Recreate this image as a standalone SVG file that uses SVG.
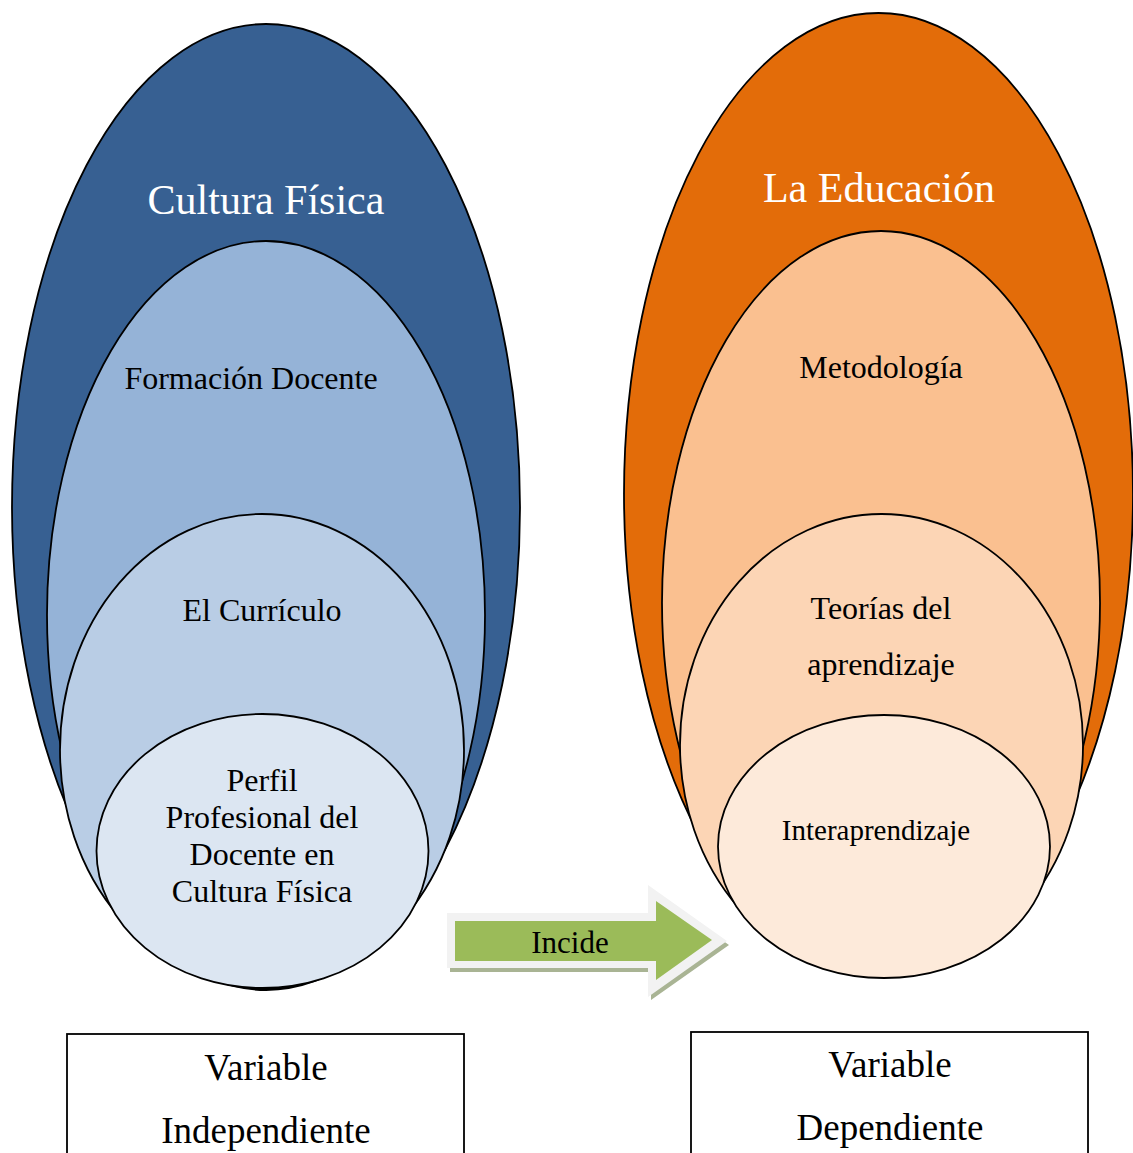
<svg xmlns="http://www.w3.org/2000/svg" width="1133" height="1153" viewBox="0 0 1133 1153">
<style>
.e{stroke:#000;stroke-width:1.8}
text{font-family:"Liberation Serif","Times New Roman",serif;text-anchor:middle;fill:#000}
.t{font-size:42px;fill:#fff}
.m{font-size:32px}
.v{font-size:37px}
</style>
<rect width="1133" height="1153" fill="#fff"/>
<g id="cultura-fisica">
<ellipse class="e" cx="266" cy="507" rx="254" ry="483" fill="#376092"/>
<text class="t" x="266" y="214">Cultura Física</text>
</g>
<g id="formacion-docente">
<ellipse class="e" cx="266" cy="615" rx="219" ry="374" fill="#95B3D7"/>
<text class="m" x="251" y="389">Formación Docente</text>
</g>
<g id="el-curriculo">
<ellipse class="e" cx="262" cy="750" rx="202" ry="236" fill="#B9CDE5"/>
<text class="m" x="262" y="621">El Currículo</text>
</g>
<g id="perfil">
<ellipse class="e" cx="262.5" cy="851" rx="166" ry="137" fill="#DCE6F2"/>
<text class="m" x="262" y="791">Perfil</text>
<text class="m" x="262" y="828">Profesional del</text>
<text class="m" x="262" y="865">Docente en</text>
<text class="m" x="262" y="902">Cultura Física</text>
</g>
<g id="la-educacion">
<ellipse class="e" cx="878.5" cy="494" rx="254.5" ry="481" fill="#E36C09"/>
<text class="t" x="879" y="202">La Educación</text>
</g>
<g id="metodologia">
<ellipse class="e" cx="881" cy="603" rx="219" ry="372" fill="#FAC090"/>
<text class="m" x="881" y="378">Metodología</text>
</g>
<g id="teorias">
<ellipse class="e" cx="881.5" cy="745" rx="201.5" ry="231" fill="#FCD5B5"/>
<text class="m" x="881" y="619">Teorías del</text>
<text class="m" x="881" y="675">aprendizaje</text>
</g>
<g id="interaprendizaje">
<ellipse class="e" cx="884" cy="846.5" rx="166" ry="131.5" fill="#FDEADA"/>
<text x="876" y="840" font-size="29">Interaprendizaje</text>
</g>
<g id="connectors">
<g id="incide">
<polygon points="450,917 651,917 651,890 729,945 651,1000 651,972 450,972" fill="#A9B494"/>
<polygon points="447,913 648,913 648,885 727,941 648,997 648,968 447,968" fill="#F2F2F2"/>
<polygon points="455,921 656,921 656,901 712,940 656,980 656,961 455,961" fill="#9BBB59"/>
<text x="570" y="953" font-size="31">Incide</text>
</g>
</g>
<g id="variable-independiente">
<rect x="67" y="1034" width="397" height="140" fill="#fff" stroke="#000" stroke-width="1.8"/>
<text class="v" x="266" y="1080">Variable</text>
<text class="v" x="266" y="1143">Independiente</text>
</g>
<g id="variable-dependiente">
<rect x="691" y="1032" width="397" height="140" fill="#fff" stroke="#000" stroke-width="1.8"/>
<text class="v" x="890" y="1077">Variable</text>
<text class="v" x="890" y="1140">Dependiente</text>
</g>
</svg>
